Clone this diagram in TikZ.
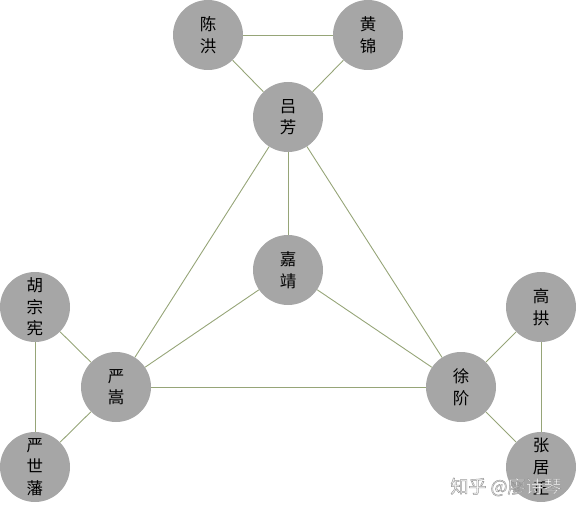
\documentclass[tikz,border=0pt]{standalone}
\usepackage{fontspec}
\newfontfamily\cjk{Noto Sans CJK SC}
\usepackage{tikz}
\definecolor{ballgray}{RGB}{166,166,166}
\definecolor{linkgreen}{RGB}{150,165,120}
\begin{document}
\begin{tikzpicture}[x=1pt,y=-1pt,
  person/.style={circle,fill=ballgray,minimum size=70pt,inner sep=0pt,
    font=\cjk\fontsize{16.5}{21.5}\selectfont,align=center},
  link/.style={draw=linkgreen,line width=0.9pt}]
\useasboundingbox (0,0) rectangle (576,511);

\node[person] (CH) at (208,35) {陈\\洪};
\node[person] (HJ) at (368,35) {黄\\锦};
\node[person] (LF) at (288,117) {吕\\芳};
\node[person] (JJ) at (288,270) {嘉\\靖};
\node[person] (YS) at (116,387) {严\\嵩};
\node[person] (XJ) at (461,387) {徐\\阶};
\node[person] (HZ) at (35,307) {胡\\宗\\宪};
\node[person] (YF) at (35,467) {严\\世\\藩};
\node[person] (GG) at (541,307) {高\\拱};
\node[person] (ZJ) at (541,467) {张\\居\\正};

\draw[link] (CH) -- (HJ);
\draw[link] (CH) -- (LF);
\draw[link] (HJ) -- (LF);
\draw[link] (LF) -- (JJ);
\draw[link] (LF) -- (YS);
\draw[link] (LF) -- (XJ);
\draw[link] (JJ) -- (YS);
\draw[link] (JJ) -- (XJ);
\draw[link] (YS) -- (XJ);
\draw[link] (HZ) -- (YS);
\draw[link] (HZ) -- (YF);
\draw[link] (YF) -- (YS);
\draw[link] (GG) -- (XJ);
\draw[link] (GG) -- (ZJ);
\draw[link] (ZJ) -- (XJ);

\node[font=\cjk\fontsize{18}{18}\selectfont,text=white,inner sep=0pt] (WM) at (506,487)
  {\special{pdf:literal 0.6 G 2 Tr 0.5 w}知乎 @廖诗琴\special{pdf:literal 0 Tr}};
\end{tikzpicture}
\end{document}
